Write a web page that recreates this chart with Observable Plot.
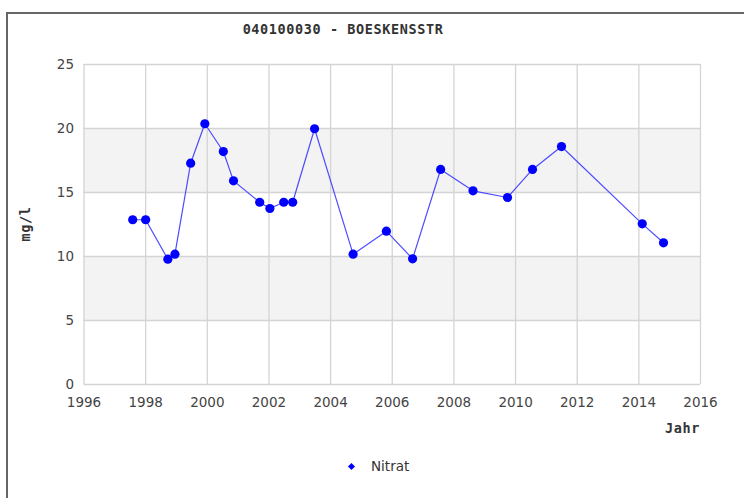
<!DOCTYPE html>
<html><head><meta charset="utf-8">
<script src="https://cdn.jsdelivr.net/npm/d3@7"></script>
<script src="https://cdn.jsdelivr.net/npm/@observablehq/plot@0.6"></script>
<style>
body{margin:0;background:#fff;}
#wrap{position:relative;width:744px;height:498px;overflow:hidden;font-family:"DejaVu Sans",sans-serif;}
#chart{position:absolute;left:0;top:0;}
#frame{position:absolute;left:6px;top:12px;width:800px;height:600px;border-left:2px solid #666;border-top:2px solid #666;}
.mono{font-family:"DejaVu Sans Mono",monospace;font-weight:bold;font-size:13.5px;letter-spacing:0.6px;color:#333;position:absolute;white-space:nowrap;line-height:1;}
#title{left:343px;top:23px;transform:translateX(-50%);}
#ylab{left:26px;top:224px;transform:translate(-50%,-50%) rotate(-90deg);}
#xlab{right:44px;top:422px;}
#legend{position:absolute;left:349px;top:458px;font-size:13.5px;color:#333;line-height:16px;}
#legend .mk{display:inline-block;width:5px;height:5px;background:#0000ff;transform:rotate(45deg);margin-right:17px;vertical-align:middle;position:relative;top:-1px;}
</style></head>
<body>
<div id="wrap">
  <div id="chart"></div>
  <div id="frame"></div>
  <div class="mono" id="title"></div>
  <div class="mono" id="ylab"></div>
  <div class="mono" id="xlab"></div>
  <div id="legend"><span class="mk"></span><span id="legtext"></span></div>
</div>
<script>
const titleText = "040100030 - BOESKENSSTR";
const yLabel = "mg/l";
const xLabel = "Jahr";
const seriesName = "Nitrat";

const years = [1997.58, 1998.0, 1998.72, 1998.95, 1999.46, 1999.92, 2000.52, 2000.85,
  2001.70, 2002.03, 2002.48, 2002.77, 2003.48, 2004.73, 2005.81, 2006.66,
  2007.57, 2008.62, 2009.74, 2010.55, 2011.49, 2014.11, 2014.80];
const nitrat = [12.87, 12.87, 9.79, 10.18, 17.29, 20.37, 18.2, 15.91,
  14.24, 13.75, 14.24, 14.24, 19.98, 10.18, 11.98, 9.82,
  16.8, 15.13, 14.61, 16.8, 18.59, 12.55, 11.07];

const xTicks = [1996, 1998, 2000, 2002, 2004, 2006, 2008, 2010, 2012, 2014, 2016];
const yTicks = [0, 5, 10, 15, 20, 25];

const data = years.map((y, i) => ({year: y, value: nitrat[i]}));
// alternate bands between every other pair of y ticks (5–10, 15–20)
const bands = [];
for (let i = 1; i < yTicks.length - 1; i += 2) bands.push({lo: yTicks[i], hi: yTicks[i + 1]});

document.getElementById("title").textContent = titleText;
document.getElementById("ylab").textContent = yLabel;
document.getElementById("xlab").textContent = xLabel;
document.getElementById("legtext").textContent = seriesName;

const chart = Plot.plot({
  width: 744,
  height: 498,
  marginLeft: 83.5,
  marginRight: 44,
  marginTop: 64,
  marginBottom: 114,
  style: {fontFamily: "DejaVu Sans", fontSize: "13.5px", color: "#444", background: "transparent"},
  x: {domain: [1996, 2016], ticks: xTicks, tickFormat: "d"},
  y: {domain: [0, 25], ticks: yTicks},
  marks: [
    Plot.rect(bands, {y1: "lo", y2: "hi", fill: "#f3f3f3"}),
    Plot.gridX(xTicks, {stroke: "#d4d4d4", strokeOpacity: 1, strokeWidth: 1.3}),
    Plot.gridY(yTicks, {stroke: "#d4d4d4", strokeOpacity: 1, strokeWidth: 1.3}),
    Plot.axisX(xTicks, {tickSize: 0, tickPadding: 13, tickFormat: "d", label: null, fill: "#444"}),
    Plot.axisY(yTicks, {tickSize: 0, tickPadding: 10, label: null, fill: "#444"}),
    Plot.line(data, {x: "year", y: "value", stroke: "#3a3aff", strokeOpacity: 0.9, strokeWidth: 1.2}),
    Plot.dot(data, {x: "year", y: "value", r: 4.6, fill: "#0000ff", stroke: "none"})
  ]
});
document.getElementById("chart").appendChild(chart);
</script>
</body></html>
